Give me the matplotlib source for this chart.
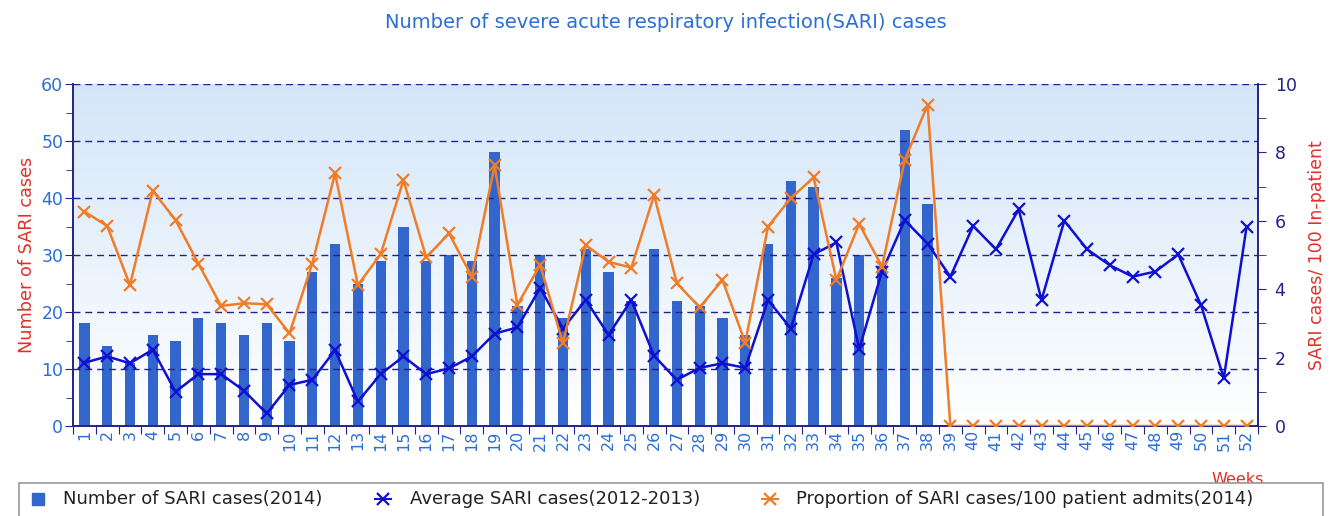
import matplotlib
matplotlib.use("Agg")
import matplotlib.pyplot as plt
import numpy as np
from matplotlib.lines import Line2D
from matplotlib.patches import Rectangle

weeks = list(range(1, 53))
week_labels = [str(w) for w in weeks]

sari_2014 = [18, 14, 11, 16, 15, 19, 18, 16, 18, 15,
             27, 32, 25, 29, 35, 29, 30, 29, 48, 21,
             30, 19, 31, 27, 22, 31, 22, 21, 19, 16,
             32, 43, 42, 26, 30, 28, 52, 39]

avg_2012_2013 = [11.1, 12.2, 11.0, 13.4, 6.0, 9.1, 9.1, 6.2, 2.2, 7.2,
                 8.1, 13.3, 4.3, 9.1, 12.2, 9.1, 10.1, 12.2, 16.2, 17.3,
                 24.2, 17.1, 22.1, 16.0, 22.1, 12.3, 8.1, 10.2, 11.0, 10.2,
                 22.1, 17.1, 30.1, 32.2, 13.5, 27.1, 36.1, 32.0, 26.2, 35.1,
                 31.0, 38.0, 22.1, 36.0, 31.0, 28.2, 26.2, 27.1, 30.1, 21.2,
                 8.4, 35.0]

proportion_2014 = [6.27, 5.85, 4.12, 6.88, 6.02, 4.75, 3.51, 3.59, 3.56, 2.71,
                   4.75, 7.39, 4.12, 5.02, 7.19, 4.93, 5.63, 4.37, 7.62, 3.54,
                   4.71, 2.42, 5.29, 4.80, 4.63, 6.75, 4.17, 3.47, 4.27, 2.44,
                   5.83, 6.66, 7.27, 4.27, 5.91, 4.66, 7.78, 9.39,
                   0, 0, 0, 0, 0, 0, 0, 0, 0, 0, 0, 0, 0, 0]

title = "Number of severe acute respiratory infection(SARI) cases"
left_label = "Number of SARI cases"
right_label = "SARI cases/ 100 In-patient"
x_label = "Weeks"
legend_labels = ["Number of SARI cases(2014)", "Average SARI cases(2012-2013)",
                 "Proportion of SARI cases/100 patient admits(2014)"]

BAR = "#3366cc"
BLUE = "#1010d0"
ORANGE = "#f07c28"
TICKBLUE = "#2b6fd6"
NAVY = "#22228a"
RED = "#e0302a"

W, H = 1335, 516
fig = plt.figure(figsize=(W / 100, H / 100), dpi=100)
L, R, B, T = 73, 1258, 426, 84
ax = fig.add_axes([L / W, (H - B) / H, (R - L) / W, (B - T) / H])
ax2 = ax.twinx()

# gradient background
grad = np.linspace(0, 1, 256).reshape(-1, 1)
top_c = np.array([0.83, 0.90, 0.975])
bot_c = np.array([1.0, 1.0, 1.0])
img = bot_c[None, None, :] * (1 - grad[:, :, None]) + top_c[None, None, :] * grad[:, :, None]
ax.imshow(img, extent=[0, 1, 0, 1], transform=ax.transAxes, origin="lower",
          aspect="auto", zorder=0)

ax.set_xlim(0.5, 52.5)
ax.set_ylim(0, 60)
ax2.set_ylim(0, 10)

ax.bar(weeks[:len(sari_2014)], sari_2014, width=0.45, color=BAR, zorder=2)
ax.plot(weeks, avg_2012_2013, color=BLUE, lw=1.8, marker="x", ms=8, mew=1.6, zorder=4)
ax2.plot(weeks, proportion_2014, color=ORANGE, lw=1.8, marker="x", ms=8, mew=1.6, zorder=4)

ax.set_yticks(range(0, 61, 10))
ax.set_yticks(range(0, 61, 5), minor=True)
ax.grid(axis="y", which="major", color=NAVY, ls=(0, (5, 3.5)), lw=1, zorder=1)
ax.set_axisbelow(False)
ax.tick_params(axis="y", which="both", direction="out", colors=NAVY, length=6,
               labelsize=12.5, labelcolor=TICKBLUE, pad=1)
ax.tick_params(axis="y", which="minor", length=5)

ax2.set_yticks(range(0, 11, 2))
ax2.set_yticks(range(0, 11, 1), minor=True)
ax2.tick_params(axis="y", which="both", direction="out", colors=NAVY, length=6,
                labelsize=12.5, labelcolor=NAVY, pad=6)

# x ticks at boundaries, labels at centres
ax.set_xticks(np.arange(0.5, 53, 1))
ax.set_xticklabels([])
ax.set_xticks(weeks, minor=True)
ax.set_xticklabels(week_labels, minor=True, rotation=90)
ax.tick_params(axis="x", which="major", direction="out", colors=NAVY, length=6)
ax.tick_params(axis="x", which="minor", length=0, labelsize=11.5, labelcolor=TICKBLUE, pad=3)

for a in (ax, ax2):
    for s in a.spines.values():
        s.set_color(NAVY)
        s.set_linewidth(1.2)
    a.spines["top"].set_visible(False)

ax.set_ylabel(left_label, color=RED, fontsize=12.7, labelpad=4)
ax2.set_ylabel(right_label, color=RED, fontsize=12.5, labelpad=8)

fig.text(666 / W, 1 - 22 / H, title, color=TICKBLUE, fontsize=14, ha="center", va="center")
fig.text(1238 / W, 1 - 479 / H, x_label, color=RED, fontsize=11.5, ha="center", va="center")

# legend box
fig.patches.append(Rectangle((19 / W, -0.05), (1323 - 19) / W, (0.05 + 1 - 483 / H),
                             transform=fig.transFigure, facecolor="white",
                             edgecolor="#999999", lw=1.2, zorder=5))
ly = 1 - 499 / H
entries = [(38, 63, BAR, "s", False),
           (383, 410, BLUE, "x", True),
           (770, 796, ORANGE, "x", True)]
for (mx, tx, col, mk, with_line), lab in zip(entries, legend_labels):
    if with_line:
        fig.add_artist(Line2D([(mx - 8) / W, (mx + 8) / W], [ly, ly], color=col, lw=1.5,
                              transform=fig.transFigure, zorder=6))
        fig.add_artist(Line2D([mx / W], [ly], ls="none", marker=mk, color=col, ms=8,
                              mew=1.6, transform=fig.transFigure, zorder=6))
    else:
        fig.add_artist(Line2D([mx / W], [ly], ls="none", marker=mk, color=col, ms=8,
                              transform=fig.transFigure, zorder=6))
    t = fig.text(tx / W, ly, lab, fontsize=13, color="#222222", ha="left", va="center")
    t.set_zorder(6)

fig.savefig("out.png", dpi=100)
